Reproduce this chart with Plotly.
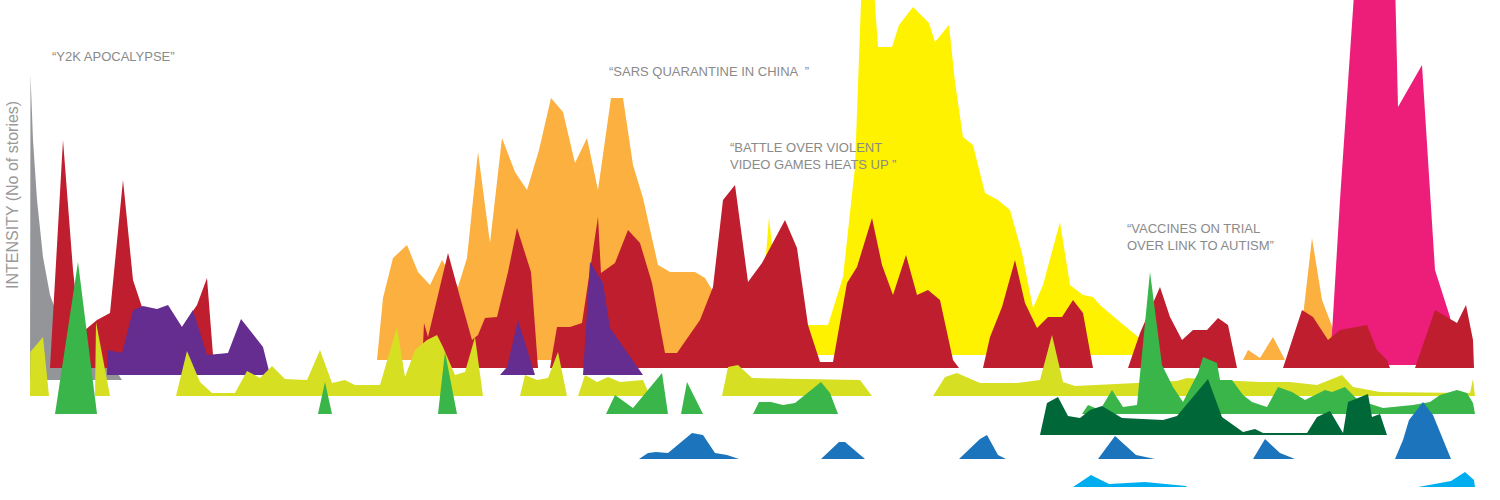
import plotly.graph_objects as go

# time index (months from the start of the period) and number of stories
# None separates the separate bursts of one story

gray_t = [0, 0.05, 0.3, 0.7, 1.3, 2.0, 3.0, 4.5, 6.5, 8.0, 9.2]
gray_v = [0, 152.5, 120, 90, 61.5, 42.5, 29, 21, 17, 9, 0]

yellow_t = [72.8, 73.9, 75.0, 77.7, 79.8, 81.3, 82.5, 83.2, 84.3, 84.8, 86.2, 86.9, 88.3, 89.9, 90.5,
            91.9, 92.5, 93.3, 94.3, 95.5, 96.8, 98.0, 99.2, 100.3, 101.3, 103.0, 104.0, 105.3, 106.3,
            107.0, 109.0, 110.3, 111.2, 111.7]
yellow_v = [0, 69, 17.5, 15, 15, 39, 94, 190, 190, 154, 154, 165, 174, 166, 156.5,
            165, 136.5, 109, 105, 81, 77.5, 72.5, 51, 23.5, 35, 66.5, 35, 30, 29,
            25, 16.5, 11, 7.5, 0]

orange_t = [34.7, 35.3, 36.3, 37.7, 38.8, 40.0, 41.2, 42.8, 43.7, 44.8, 46.0, 47.2, 48.5, 49.7, 50.9,
            52.1, 53.3, 54.5, 55.7, 56.8, 58.1, 59.3, 60.3, 61.3, 62.8, 64.0, 66.5, 67.5, 68.8, 69.2, None,
            121.3, 121.8, 123.0, 124.3, 125.5, None,
            126.8, 128.2, 129.2, 130.5, 131.5]
orange_v = [0, 31, 51, 57.5, 44, 37.5, 50, 36.5, 51, 104, 58.5, 111, 94, 85, 105,
            131, 124, 98.5, 111, 85, 131, 131, 97.5, 81, 47.5, 44, 44, 41, 30, 0, None,
            0, 5, 1, 11.5, 0, None,
            0, 61, 30, 13.5, 0]

magenta_t = [129.8, 130.2, 131.0, 132.5, 136.5, 136.8, 139.2, 140.5, 142.0, 142.5]
magenta_v = [0, 16, 82.5, 192.5, 192.5, 129, 150, 47.5, 24, 0]

red_t = [2.0, 2.3, 3.3, 4.3, 4.7, 5.5, 6.7, 8.0, 9.3, 10.3, 11.2, 13.0, 15.0, 16.7, 17.7, 18.3, 18.5, None,
         39.2, 39.4, 39.8, 41.8, 43.0, 44.2, 44.8, 45.5, 46.7, 47.8, 48.7, 50.1, 50.8, None,
         52.0, 52.7, 54.0, 55.2, 56.8, 57.1, 58.5, 59.8, 61.0, 62.2, 63.5, 64.7, 67.0, 68.3, 69.3,
         70.5, 71.8, 73.2, 75.5, 76.7, 77.8, 79.0, 80.3, 81.7, 82.7, 84.2, 85.2, 86.3, 87.6, 88.7,
         89.8, 91.0, 92.3, 92.9, None,
         95.3, 96.0, 97.2, 98.5, 99.5, 100.7, 101.8, 103.2, 104.3, 105.3, 106.3, None,
         109.8, 111.0, 113.0, 114.0, 115.2, 116.3, 117.7, 118.8, 119.8, 120.7, None,
         125.3, 127.2, 128.3, 129.8, 131.0, 133.7, 134.7, 135.7, 136.0, None,
         138.5, 140.5, 142.7, 143.6, 144.3, 144.4]
red_v = [0, 25.5, 114, 49, 30.5, 19, 24, 27.5, 94, 44, 30.5, 19, 19, 31.5, 45, 6.5, 0, None,
         0, 22.5, 15.5, 57.5, 35.5, 14, 16.5, 25, 25.5, 48, 70, 48, 0, None,
         0, 20.5, 20.5, 22.5, 75.5, 47.5, 52.5, 69, 62.5, 42.5, 7.5, 7.5, 24, 40.5, 84,
         91.5, 43, 52.5, 74, 60, 21.5, 3, 3, 42.5, 50.5, 75, 51.5, 36.5, 56.5, 36.5,
         39, 34, 4, 0, None,
         0, 15.5, 30.5, 54, 32.5, 20, 25.5, 25.5, 34, 27.5, 0, None,
         0, 17.5, 40.5, 25.5, 14, 19, 19, 25, 21.5, 0, None,
         0, 29, 25.5, 14, 19, 21.5, 9, 4, 0, None,
         0, 29, 22.5, 31.5, 14, 0]

purple_t = [7.7, 7.75, 9.2, 10.3, 11.3, 12.7, 13.8, 15.2, 16.3, 17.7, 19.8, 21.1, 23.3, 23.9, 24.0, None,
            47.0, 47.7, 48.8, 50.5, None,
            55.3, 56.0, 57.3, 58.0, 61.3]
purple_v = [0, 12.5, 11, 32.5, 34.5, 33, 35, 24, 32.5, 10, 11, 28, 14, 2.5, 0, None,
            0, 4, 27.5, 0, None,
            0, 56.5, 46, 23.5, 0]

lime_t = [0, 0.03, 1.3, 1.9, None,
          6.5, 6.6, 8.0, None,
          14.6, 15.7, 17.0, 18.2, 20.5, 21.7, 23.0, 24.2, 25.5, 27.7, 29.0, 30.2, 31.5, 32.5, 35.0,
          36.7, 37.5, 38.5, 39.7, 40.7, 41.3, 42.5, 43.5, 44.5, 45.3, None,
          49.0, 49.5, 50.7, 51.8, 52.8, 53.7, None,
          54.8, 55.5, 56.7, 57.8, 59.0, 61.3, 62.0, None,
          69.2, 69.8, 70.8, 72.2, 83.0, 84.2, None,
          90.3, 91.5, 92.7, 95.0, 98.7, 101.0, 102.2, 103.3, 104.5, 109.0, 114.7, 115.7, 118.7,
          123.0, 126.0, 128.7, 131.2, 132.3, 135.0, 144.0, 144.3, 144.5]
lime_v = [0, 22, 29.5, 0, None,
          0, 37, 0, None,
          0, 22.5, 7, 1.5, 1.5, 12.5, 9, 15, 8.5, 8, 23, 6.5, 8, 5.5, 5.5,
          34.5, 9.5, 23, 28, 30.5, 24.5, 10.5, 12, 29.5, 0, None,
          0, 10.5, 8, 9, 22, 0, None,
          0, 10.5, 7, 9.5, 7, 8, 0, None,
          0, 14.5, 15.5, 9, 8, 0, None,
          0, 9.5, 11.5, 6.5, 6.5, 8, 30.5, 7, 5, 6, 7.5, 9, 8,
          7, 7, 5.5, 10.5, 4.5, 2, 1.5, 8.5, 0]

green_t = [2.5, 4.8, 6.7, None,
           28.8, 29.5, 30.2, None,
           40.8, 41.5, 42.7, None,
           57.6, 58.5, 60.3, 63.2, 63.8, None,
           65.1, 65.7, 67.3, None,
           72.3, 72.9, 74.1, 75.3, 76.5, 79.1, 80.0, 80.8, None,
           105.2, 105.8, 107.0, 108.2, 109.3, 110.7, 112.0, 113.2, 114.3, 115.3, 116.8, 117.3, 118.7,
           119.0, 120.2, 121.3, 122.2, 123.7, 124.8, 126.2, 127.5, 129.5, 130.2, 131.5, 132.8, 135.3,
           138.3, 140.0, 141.0, 142.7, 143.7, 144.3, 144.5]
green_v = [0, 76, 0, None,
           0, 16, 0, None,
           0, 31, 0, None,
           0, 9.5, 3, 20.5, 0, None,
           0, 16, 0, None,
           0, 6, 6, 4.5, 5.5, 16, 10.5, 0, None,
           0, 4.5, 2, 12, 3.5, 4.5, 71, 24.5, 13.5, 6, 20.5, 28.5, 25.5,
           17, 17, 9.5, 6, 3.5, 13.5, 11, 7, 12, 11, 13.5, 7, 3,
           4.5, 6, 9.5, 12, 10.5, 5.5, 0]

dkgreen_t = [101.0, 101.7, 102.8, 103.8, 105.0, 106.0, 107.2, 109.2, 113.3, 114.7, 117.8, 119.2, 121.3,
             122.5, 123.3, 127.7, 128.7, 130.0, 131.3, 131.8, 133.8, 134.2, 135.0, 135.7]
dkgreen_v = [0, 16, 19, 9.5, 8.5, 12.5, 14.5, 8.5, 7.5, 9.5, 28, 9, 1.5,
             3, 1, 1, 9, 12, 1, 16.5, 20.5, 9, 10.5, 0]

blue_t = [60.9, 61.8, 62.6, 63.8, 66.2, 67.3, 68.5, 69.7, 70.9, None,
          79.1, 80.9, 81.5, 83.5, None,
          92.9, 95.0, 95.7, 96.8, 97.6, None,
          106.8, 108.5, 110.6, 112.5, None,
          122.3, 123.5, 125.0, 126.5, None,
          136.5, 137.3, 137.9, 139.3, 140.3, 142.1]
blue_v = [0, 3, 3.5, 3, 13, 12, 3, 2, 0, None,
          0, 8.5, 8.5, 0, None,
          0, 10, 12, 2, 0, None,
          0, 11.5, 2, 0, None,
          0, 10, 3, 0, None,
          0, 9.5, 19.5, 28.5, 22, 0]

cyan_t = [104.3, 106.1, 107.9, 111.5, 115.6, 115.7, None,
          138.8, 140.3, 142.1, 143.5, 144.4, 144.5]
cyan_v = [0, 6, 1.5, 2.5, 0.5, 0, None,
          0, 1.5, 3, 7.5, 3.5, 0]

# layers, from back to front: (times, stories, baseline, colour)
layers = [
    (gray_t, gray_v, 60, '#939598'),
    (yellow_t, yellow_v, 72.5, '#fff200'),
    (orange_t, orange_v, 70, '#fbb040'),
    (magenta_t, magenta_v, 67.5, '#ec1e79'),
    (red_t, red_v, 66, '#be1e2d'),
    (purple_t, purple_v, 62.5, '#662d91'),
    (lime_t, lime_v, 52, '#d7df23'),
    (green_t, green_v, 43, '#39b54a'),
    (dkgreen_t, dkgreen_v, 32.5, '#006838'),
    (blue_t, blue_v, 20.5, '#1c75bc'),
    (cyan_t, cyan_v, 6.5, '#00aeef'),
]

fig = go.Figure()
for ts, vs, base, col in layers:
    ys = [None if v is None else base + v for v in vs]
    fig.add_trace(go.Scatter(x=ts, y=ys, mode='lines', fill='toself', fillcolor=col,
                             line=dict(width=0, color=col), hoverinfo='skip', showlegend=False))

note_font = dict(family='Liberation Sans, Arial, sans-serif', size=13, color='#8a8a8a')
notes = [
    ('\u201cY2K APOCALYPSE\u201d', 50, 57),
    ('\u201cSARS QUARANTINE IN CHINA  \u201d', 607, 71),
    ('\u201cBATTLE OVER VIOLENT<br>VIDEO GAMES HEATS UP \u201d', 728, 156),
    ('\u201cVACCINES ON TRIAL<br>OVER LINK TO AUTISM\u201d', 1125, 237),
]
for txt, px, py in notes:
    fig.add_annotation(text=txt, xref='paper', yref='paper', x=px / 1500, y=1 - py / 500,
                       xanchor='left', yanchor='middle', showarrow=False, align='left',
                       font=note_font)

fig.add_annotation(text='INTENSITY (No of stories)', xref='paper', yref='paper', x=12 / 1500,
                   y=1 - 195 / 500, textangle=-90, showarrow=False, xanchor='center', yanchor='middle',
                   font=dict(family='Liberation Sans, Arial, sans-serif', size=16, color='#999999'))

fig.update_layout(width=1500, height=500, margin=dict(l=0, r=0, t=0, b=0),
                  paper_bgcolor='white', plot_bgcolor='white')
fig.update_xaxes(range=[-3, 147], visible=False)
fig.update_yaxes(range=[0, 250], visible=False)

fig.write_html("out.html", config={'displayModeBar': False},
               post_script="document.body.style.margin='0';")
